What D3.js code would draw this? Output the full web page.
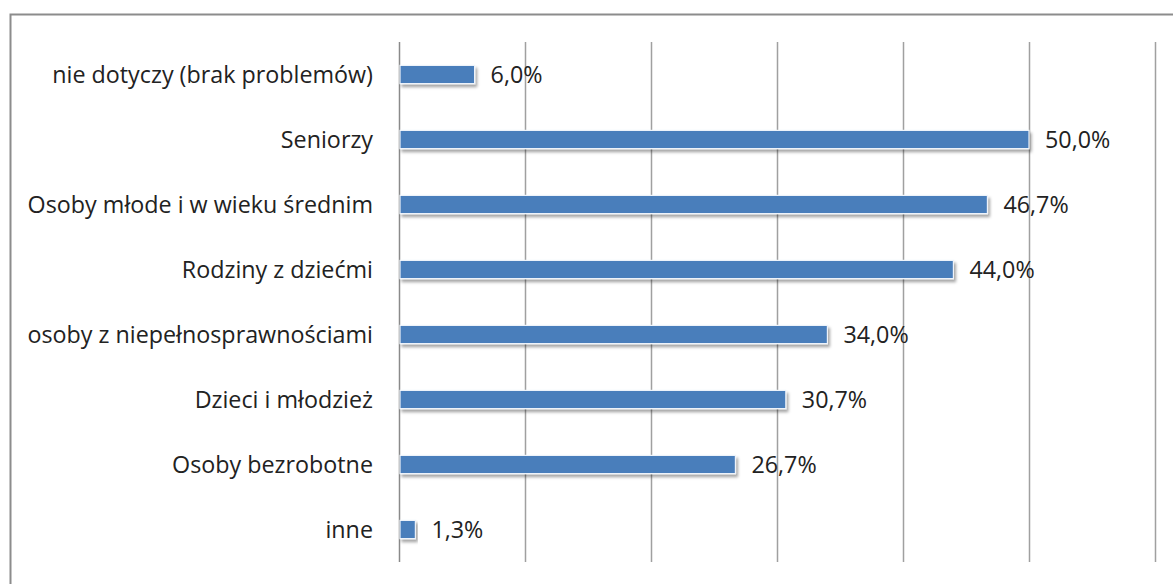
<!DOCTYPE html>
<html>
<head>
<meta charset="utf-8">
<script src="https://cdn.jsdelivr.net/npm/d3@7"></script>
<style>
  body { margin: 0; background: #fff; }
  svg { display: block; }
</style>
</head>
<body>
<div id="chart"></div>
<script>
// categories top to bottom and their shares (%)
var categories = ["nie dotyczy (brak problemów)", "Seniorzy", "Osoby młode i w wieku średnim",
  "Rodziny z dziećmi", "osoby z niepełnosprawnościami", "Dzieci i młodzież",
  "Osoby bezrobotne", "inne"];
var values = [6.0, 50.0, 46.7, 44.0, 34.0, 30.7, 26.7, 1.3];
var xTicks = [0, 10, 20, 30, 40, 50, 60];

var W = 1173, H = 584;
var margin = {top: 42, left: 399, right: 18, bottom: 22};
var font = "'Open Sans', Lato, sans-serif";

var svg = d3.select("#chart").append("svg")
  .attr("width", W).attr("height", H);

// shadow under the bars
var defs = svg.append("defs");
var f = defs.append("filter").attr("id", "shadow")
  .attr("x", "-5%").attr("y", "-30%").attr("width", "120%").attr("height", "180%");
f.append("feDropShadow").attr("dx", 2).attr("dy", 3).attr("stdDeviation", 1.6)
  .attr("flood-color", "#000").attr("flood-opacity", 0.35);

// outer frame
svg.append("rect")
  .attr("x", 10.5).attr("y", 14.5)
  .attr("width", W).attr("height", H)
  .attr("fill", "none").attr("stroke", "#8c8c8c").attr("stroke-width", 2);

var x = d3.scaleLinear().domain([0, 60]).range([margin.left, W - margin.right]);
var y = d3.scaleBand().domain(categories)
  .range([margin.top, H - margin.bottom]).paddingInner(0.72).paddingOuter(0.36);

// vertical gridlines
svg.append("g").selectAll("line").data(xTicks).join("line")
  .attr("x1", d => x(d) + 0.5).attr("x2", d => x(d) + 0.5)
  .attr("y1", margin.top).attr("y2", H - margin.bottom)
  .attr("stroke", d => d === 0 ? "#8a8a8a" : "#a0a0a0")
  .attr("stroke-width", 1.5);

// category labels
svg.append("g").selectAll("text").data(categories).join("text")
  .attr("x", margin.left - 26)
  .attr("y", d => y(d) + y.bandwidth() / 2)
  .attr("dy", "0.35em")
  .attr("text-anchor", "end")
  .attr("font-family", font)
  .attr("font-size", 23.3)
  .attr("fill", "#222")
  .text(d => d);

// bars
svg.append("g").selectAll("rect").data(values).join("rect")
  .attr("x", x(0) + 1)
  .attr("y", (d, i) => y(categories[i]))
  .attr("width", d => x(d) - x(0) - 1)
  .attr("height", y.bandwidth())
  .attr("fill", "#4a7ebb")
  .attr("stroke", "#eef3fa").attr("stroke-width", 1.2)
  .attr("filter", "url(#shadow)");

// value labels
svg.append("g").selectAll("text").data(values).join("text")
  .attr("x", d => x(d) + 16)
  .attr("y", (d, i) => y(categories[i]) + y.bandwidth() / 2)
  .attr("dy", "0.35em")
  .attr("font-family", font)
  .attr("font-size", 23.3)
  .attr("fill", "#222")
  .text(d => d.toFixed(1).replace(".", ",") + "%");
</script>
</body>
</html>
